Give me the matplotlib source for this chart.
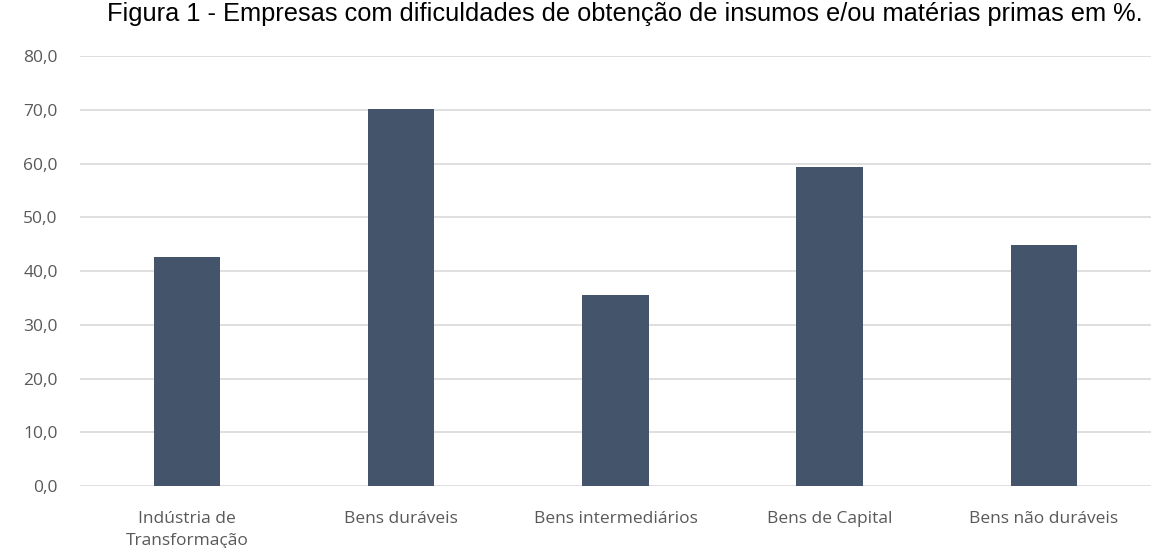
import numpy as np
import matplotlib
matplotlib.use("Agg")
import matplotlib.pyplot as plt

# data
categories = ["Indústria de\nTransformação", "Bens duráveis", "Bens intermediários",
              "Bens de Capital", "Bens não duráveis"]
values = [42.6, 70.1, 35.6, 59.4, 44.9]
yticks = [0, 10, 20, 30, 40, 50, 60, 70, 80]
title = "Figura 1 - Empresas com dificuldades de obtenção de insumos e/ou matérias primas em %."

fig = plt.figure(figsize=(11.51, 5.48), dpi=100)
ax = fig.add_axes([0.0695, 0.1131, 0.9305, 0.7847])

x = np.arange(len(categories))
ax.bar(x, values, width=0.31, color="#44546A", zorder=3)

ax.set_xlim(-0.5, len(categories) - 0.5)
ax.set_ylim(0, 80)
ax.set_yticks(yticks)
ax.set_yticklabels([f"{t:.1f}".replace(".", ",") for t in yticks])
ax.set_xticks(x)
ax.set_xticklabels(categories, linespacing=1.5)

ax.grid(axis="y", color="#d9d9d9", linewidth=1.2, zorder=0)
for s in ax.spines.values():
    s.set_visible(False)
ax.tick_params(axis="both", length=0, labelsize=12.5, labelcolor="#595959")
ax.tick_params(axis="y", pad=16)
ax.tick_params(axis="x", pad=18)
for lbl in ax.get_xticklabels() + ax.get_yticklabels():
    lbl.set_family("Open Sans")

fig.text(0.543, 0.974, title, ha="center", va="center",
         fontsize=18.3, family="Liberation Sans", color="#000000")

fig.savefig("out.png", dpi=100)
